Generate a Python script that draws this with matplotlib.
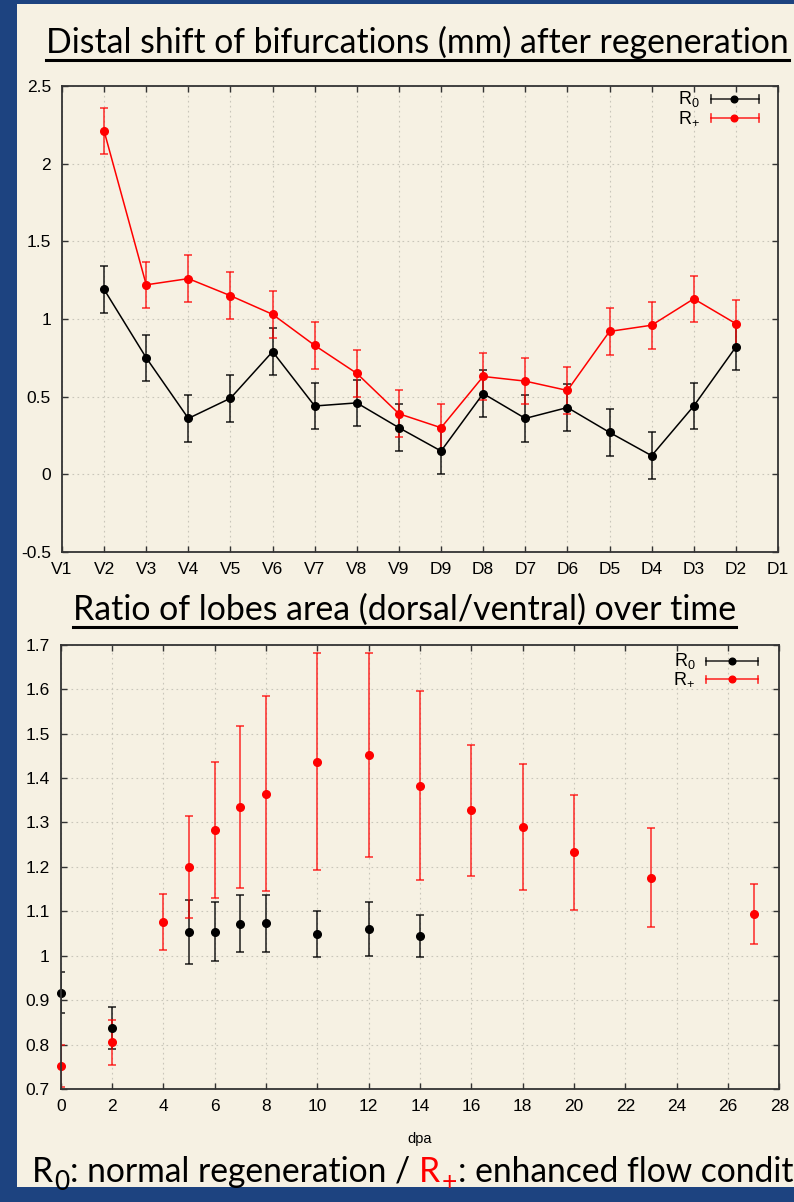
import numpy as np
import matplotlib.pyplot as plt
from matplotlib.patches import Rectangle
from matplotlib.lines import Line2D

# bifurcation positions along the fin ray
positions = ["V1", "V2", "V3", "V4", "V5", "V6", "V7", "V8", "V9",
             "D9", "D8", "D7", "D6", "D5", "D4", "D3", "D2", "D1"]
shift_pos = ["V2", "V3", "V4", "V5", "V6", "V7", "V8", "V9",
             "D9", "D8", "D7", "D6", "D5", "D4", "D3", "D2"]
shift_r0 = [1.19, 0.75, 0.36, 0.49, 0.79, 0.44, 0.46, 0.30,
            0.15, 0.52, 0.36, 0.43, 0.27, 0.12, 0.44, 0.82]
shift_r0_err = [0.15, 0.15, 0.15, 0.15, 0.15, 0.15, 0.15, 0.15,
                0.15, 0.15, 0.15, 0.15, 0.15, 0.15, 0.15, 0.15]
shift_rp = [2.21, 1.22, 1.26, 1.15, 1.03, 0.83, 0.65, 0.39,
            0.30, 0.63, 0.60, 0.54, 0.92, 0.96, 1.13, 0.97]
shift_rp_err = [0.15, 0.15, 0.15, 0.15, 0.15, 0.15, 0.15, 0.15,
                0.15, 0.15, 0.15, 0.15, 0.15, 0.15, 0.15, 0.15]

# lobe area ratio vs days post amputation
dpa_r0 = [0, 2, 5, 6, 7, 8, 10, 12, 14]
ratio_r0 = [0.917, 0.837, 1.053, 1.054, 1.072, 1.073, 1.048, 1.060, 1.044]
ratio_r0_err = [0.047, 0.047, 0.072, 0.067, 0.064, 0.064, 0.052, 0.060, 0.048]
dpa_rp = [0, 2, 4, 5, 6, 7, 8, 10, 12, 14, 16, 18, 20, 23, 27]
ratio_rp = [0.752, 0.805, 1.076, 1.199, 1.283, 1.335, 1.365, 1.437, 1.452,
            1.383, 1.327, 1.290, 1.233, 1.176, 1.094]
ratio_rp_err = [0.047, 0.050, 0.064, 0.115, 0.152, 0.183, 0.220, 0.245, 0.230,
                0.213, 0.148, 0.141, 0.129, 0.112, 0.068]

BLUE = "#1d4380"
CREAM = "#f6f1e3"
RED = "#ff0000"
TITLE_FONT = ["Lato", "DejaVu Sans"]
TICK_FONT = ["Liberation Sans", "DejaVu Sans"]
TICK_SIZE = 12.5

W, H = 794, 1202
fig = plt.figure(figsize=(W / 100, H / 100), dpi=100, facecolor=BLUE)
fig.add_artist(Rectangle((17 / W, 1 - 1187 / H), 1, (1187 - 4) / H,
                         transform=fig.transFigure, facecolor=CREAM,
                         edgecolor="none", zorder=0))
renderer = fig.canvas.get_renderer()

plt.rcParams["mathtext.fontset"] = "custom"
plt.rcParams["mathtext.rm"] = "Liberation Sans"
plt.rcParams["mathtext.it"] = "Liberation Sans"


def px(x, y):
    return x / W, 1 - y / H


def text_width(s, size):
    t = fig.text(0, 0, s, fontsize=size, family=TITLE_FONT)
    w = t.get_window_extent(renderer).width
    t.remove()
    return w


def underlined_title(s, x, y, size):
    t = fig.text(*px(x, y), s, fontsize=size, family=TITLE_FONT,
                 va="baseline", ha="left", color="black")
    bb = t.get_window_extent(renderer)
    uy = 1 - (y + 7) / H
    fig.add_artist(Line2D([bb.x0 / W, bb.x1 / W], [uy, uy], color="black",
                          lw=2.2, transform=fig.transFigure))


def style_axes(ax):
    ax.set_facecolor(CREAM)
    for sp in ax.spines.values():
        sp.set_color("#333333")
        sp.set_linewidth(1.3)
    ax.tick_params(direction="in", top=True, right=True, length=4.5,
                   width=1.0, color="#333333", labelsize=TICK_SIZE)
    ax.tick_params(axis="x", pad=7)
    ax.tick_params(axis="y", pad=8)
    ax.grid(True, ls=(0, (1.5, 3)), color="#c9c6ba", lw=0.8)
    ax.set_axisbelow(True)


def legend_rows(ax, tx, x0, x1, xd, rows):
    for sub, color, y in rows:
        ax.text(tx, y, "R$_{" + sub + "}$", transform=ax.transAxes,
                ha="right", va="center", fontsize=13, family=TICK_FONT)
        ax.plot([x0, x1], [y, y], color=color, lw=1.2, alpha=0.8,
                transform=ax.transAxes, clip_on=False)
        for xe in (x0, x1):
            ax.plot([xe, xe], [y - 0.008, y + 0.008], color=color, lw=1.2,
                    alpha=0.8, transform=ax.transAxes, clip_on=False)
        ax.plot([xd], [y], "o", color=color, ms=4.8,
                transform=ax.transAxes, clip_on=False)


# --- distal shift of bifurcations ---
underlined_title("Distal shift of bifurcations (mm) after regeneration",
                 46, 53, 24.3)

ax1 = fig.add_axes([62 / W, 1 - 552 / H, 716 / W, 466 / H])
style_axes(ax1)
xs = [positions.index(p) for p in shift_pos]
ax1.errorbar(xs, shift_r0, yerr=shift_r0_err, fmt="-o", color="black",
             ecolor=(0, 0, 0, 0.75), elinewidth=1.3, capsize=3, capthick=1.3,
             lw=1.1, ms=5.5)
ax1.errorbar(xs, shift_rp, yerr=shift_rp_err, fmt="-o", color=RED,
             ecolor=(1, 0, 0, 0.7), elinewidth=1.3, capsize=3, capthick=1.3,
             lw=1.1, ms=5.5)
ax1.set_xlim(0, 17)
ax1.set_ylim(-0.5, 2.5)
ax1.set_xticks(range(len(positions)))
ax1.set_xticklabels(positions, family=TICK_FONT)
ax1.set_yticks(np.arange(-0.5, 2.51, 0.5))
ax1.set_yticklabels(["-0.5", "0", "0.5", "1", "1.5", "2", "2.5"],
                    family=TICK_FONT)
legend_rows(ax1, 0.891, 0.906, 0.973, 0.939,
            [("0", "black", 0.972), ("+", RED, 0.931)])

# --- lobe area ratio ---
underlined_title("Ratio of lobes area (dorsal/ventral) over time", 73, 620, 24.4)

ax2 = fig.add_axes([60.7 / W, 1 - 1089 / H, 718.6 / W, 444.3 / H])
style_axes(ax2)
ax2.errorbar(dpa_r0, ratio_r0, yerr=ratio_r0_err, fmt="none",
             ecolor=(0, 0, 0, 0.75), elinewidth=1.3, capsize=3, capthick=1.3)
ax2.errorbar(dpa_rp, ratio_rp, yerr=ratio_rp_err, fmt="none",
             ecolor=(1, 0, 0, 0.7), elinewidth=1.3, capsize=3, capthick=1.3)
ax2.plot(dpa_r0, ratio_r0, "o", color="black", ms=5.5, clip_on=False)
ax2.plot(dpa_rp, ratio_rp, "o", color=RED, ms=5.5, clip_on=False)
ax2.set_xlim(0, 28)
ax2.set_ylim(0.7, 1.7)
ax2.set_xticks(range(0, 29, 2))
ax2.set_xticklabels([str(v) for v in range(0, 29, 2)], family=TICK_FONT)
ax2.set_yticks(np.round(np.arange(0.7, 1.71, 0.1), 1))
ax2.set_yticklabels(["0.7", "0.8", "0.9", "1", "1.1", "1.2", "1.3", "1.4",
                     "1.5", "1.6", "1.7"], family=TICK_FONT)
ax2.set_xlabel("dpa", fontsize=10.5, family=TICK_FONT, labelpad=13)
legend_rows(ax2, 0.883, 0.898, 0.970, 0.934,
            [("0", "black", 0.963), ("+", RED, 0.922)])

# --- caption with coloured symbol (runs off the slide edge) ---
size, sub_size = 24.2, 19
base_y = 1182
x = 32
pieces = [("R", "0", "black", ": normal regeneration /"),
          ("R", "+", RED, ": enhanced flow condit")]
for i, (sym, sub, color, rest) in enumerate(pieces):
    fig.text(*px(x, base_y), sym, fontsize=size, family=TITLE_FONT,
             color=color, va="baseline", zorder=5)
    x += text_width(sym, size) + 1
    fig.text(*px(x, base_y + 8), sub, fontsize=sub_size,
             family=TITLE_FONT, color=color, va="baseline", zorder=5)
    x += text_width(sub, sub_size) + 1
    fig.text(*px(x, base_y), rest, fontsize=size, family=TITLE_FONT,
             color="black", va="baseline", zorder=5)
    if i == 0:
        x += text_width(rest + " R", size) - text_width("R", size)

fig.savefig("out.png", dpi=100, facecolor=BLUE)
